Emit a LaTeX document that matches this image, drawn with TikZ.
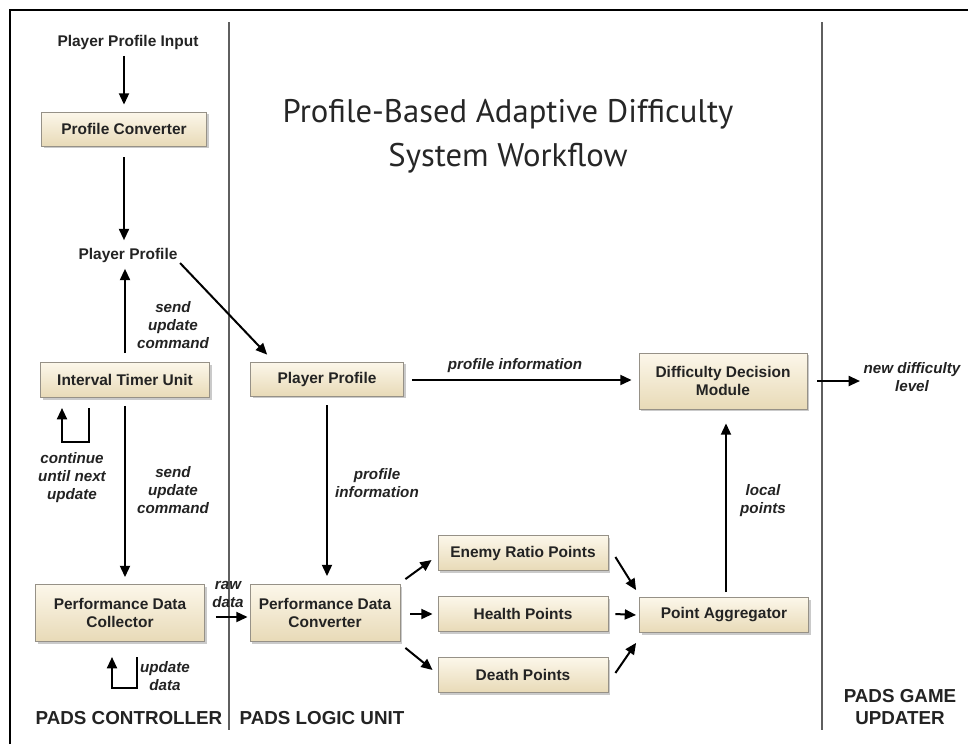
\documentclass[tikz,border=0pt]{standalone}
\usepackage{fontspec}
\setmainfont{Liberation Sans}
\newfontfamily\titlefont{PT Sans}
\usetikzlibrary{arrows.meta,shadows}

\definecolor{boxtop}{RGB}{252,247,234}
\definecolor{boxbot}{RGB}{232,218,183}
\definecolor{boxedge}{RGB}{150,145,135}
\definecolor{sepline}{RGB}{95,95,95}
\definecolor{txt}{RGB}{35,35,35}

\tikzset{
  stage/.style={draw=boxedge, line width=0.6pt, top color=boxtop, bottom color=boxbot,
    font=\bfseries\fontsize{11.6}{13.5}\selectfont, text=txt, align=center, inner sep=0pt,
    drop shadow={shadow xshift=1.6pt, shadow yshift=-1.6pt, opacity=0.35, fill=black!60}},
  plain/.style={font=\bfseries\fontsize{11.6}{13.5}\selectfont, text=txt, align=center, inner sep=1pt},
  note/.style={font=\bfseries\itshape\fontsize{11.4}{13.5}\selectfont, text=txt, align=center, inner sep=1pt},
  lane/.style={font=\bfseries\fontsize{14.1}{15.8}\selectfont, text=txt, align=center, inner sep=0pt},
  flow/.style={line width=1.5pt, -{Triangle[length=8.5pt,width=7.5pt]}},
  divider/.style={draw=sepline, line width=1.1pt},
  frame/.style={draw=black, line width=1.6pt}
}

\begin{document}
\begin{tikzpicture}[x=0.75pt,y=-0.75pt]
  \useasboundingbox (0,0) rectangle (968,744);

  % outer frame and lane dividers
  \draw[frame] (10,744) -- (10,10) -- (968,10);
  \draw[divider] (229,22) -- (229,730);
  \draw[divider] (822,22) -- (822,730);

  % title
  \node[font=\titlefont\fontsize{24.5}{33}\selectfont, text=black!85, align=center] (title) at (508,136)
    {Profile-Based Adaptive Difficulty\\System Workflow};

  % PADS controller lane
  \node[plain] (input) at (128,42) {Player Profile Input};
  \node[stage, minimum width=123.75pt, minimum height=25.5pt] (conv) at (124,129) {Profile Converter};
  \node[plain] (pp1) at (128,255) {Player Profile};
  \node[stage, minimum width=126.75pt, minimum height=26.25pt] (timer) at (125,380) {Interval Timer Unit};
  \node[stage, minimum width=126.75pt, minimum height=42.75pt] (coll) at (120,613) {Performance Data\\Collector};

  % PADS logic unit lane
  \node[stage, minimum width=114.75pt, minimum height=25.5pt] (pp2) at (327,379) {Player Profile};
  \node[stage, minimum width=112.5pt, minimum height=42.75pt] (pdc) at (325,613) {Performance Data\\Converter};
  \node[stage, minimum width=127.5pt, minimum height=26.25pt] (enemy) at (523,553) {Enemy Ratio Points};
  \node[stage, minimum width=127.5pt, minimum height=26.25pt] (health) at (523,614) {Health Points};
  \node[stage, minimum width=127.5pt, minimum height=26.25pt] (death) at (523,675) {Death Points};
  \node[stage, minimum width=126.75pt, minimum height=26.25pt] (agg) at (724,615) {Point Aggregator};
  \node[stage, minimum width=126pt, minimum height=42pt] (ddm) at (723,381) {Difficulty Decision\\Module};

  % game updater lane
  \node[note] (newlvl) at (912,377) {new difficulty\\level};

  % lane captions
  \node[lane] (capctl) at (129,718) {PADS CONTROLLER};
  \node[lane] (caplogic) at (322,718) {PADS LOGIC UNIT};
  \node[lane] (capgame) at (900,707) {PADS GAME\\UPDATER};

  % helper points where straight connectors meet their targets
  \coordinate (inbot) at (conv.north |- input.south);
  \coordinate (pptop) at (conv.south |- pp1.north);
  \coordinate (ppbot) at (timer.north |- pp1.south);
  \coordinate (colltop) at (timer.south |- coll.north);
  \coordinate (pdctop) at (pp2.south |- pdc.north);
  \coordinate (ddmleft) at (ddm.west |- pp2.east);
  \coordinate (aggtop) at (agg.north -| ddm.south);

  % connectors in the controller lane
  \draw[flow] ([shift={(0,5)}]inbot) -- ([shift={(0,-7)}]conv.north);
  \draw[flow] ([shift={(0,11)}]conv.south) -- ([shift={(0,-6)}]pptop);
  \draw[flow] ([shift={(0,-9)}]timer.north) -- ([shift={(0,5)}]ppbot);
  \draw[flow] ([shift={(0,8)}]timer.south) -- ([shift={(0,-7)}]colltop);

  \coordinate (tla) at (89,408);
  \coordinate (tlb) at (62,408);
  \draw[flow] (tla) -- (89,442) -| (tlb);

  \coordinate (cla) at (137,657);
  \coordinate (clb) at (112,657);
  \draw[flow] (cla) -- (137,688) -| (clb);

  \draw[flow] ([shift={(1,8)}]pp1.east) -- ([shift={(17,-7)}]pp2.north west);
  \draw[flow] ([shift={(11,4)}]coll.east) -- ([shift={(-2,4)}]pdc.west);

  % connectors in the logic unit lane
  \draw[flow] ([shift={(8,1)}]pp2.east) -- ([shift={(-7,1)}]ddmleft);
  \draw[flow] ([shift={(0,9)}]pp2.south) -- ([shift={(0,-8)}]pdctop);
  \draw[flow] ([shift={(5,-5)}]pdc.north east) -- ([shift={(-6,7)}]enemy.west);
  \draw[flow] ([shift={(10,1)}]pdc.east) -- ([shift={(-5,0)}]health.west);
  \draw[flow] ([shift={(5,6)}]pdc.south east) -- ([shift={(-5,-5)}]death.west);
  \draw[flow] ([shift={(7,4)}]enemy.east) -- ([shift={(-3,-7)}]agg.north west);
  \draw[flow] ([shift={(7,0)}]health.east) -- ([shift={(-3,0)}]agg.west);
  \draw[flow] ([shift={(7,-2)}]death.east) -- ([shift={(-3,10)}]agg.south west);
  \draw[flow] ([shift={(3,-5)}]aggtop) -- ([shift={(3,14)}]ddm.south);
  \draw[flow] ([shift={(10,0)}]ddm.east) -- ([shift={(-2,0)}]newlvl.west |- ddm.east);

  % connector labels
  \node[note] (lsend1) at (173,325) {send\\update\\command};
  \node[note] (lcont) at (72,478) {continue\\until next\\update};
  \node[note] (lsend2) at (173,490) {send\\update\\command};
  \node[note] (lraw) at (228,594) {raw\\data};
  \node[note] (lupd) at (165,676) {update\\data};
  \node[note] (lprof1) at (515,366) {profile information};
  \node[note] (lprof2) at (377,483) {profile\\information};
  \node[note] (llocal) at (763,501) {local\\points};
\end{tikzpicture}
\end{document}
